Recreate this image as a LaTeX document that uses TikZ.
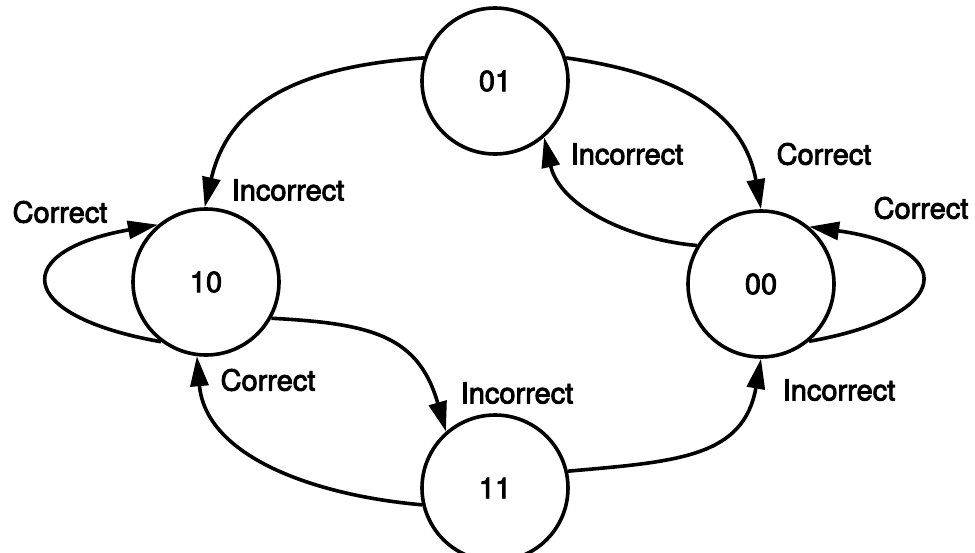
\documentclass[tikz,border=0pt]{standalone}
\usepackage{fontspec}
\newfontfamily\labfont[FakeBold=3]{TeX Gyre Heros}
\usetikzlibrary{arrows.meta}
\begin{document}
\begin{tikzpicture}[x=1pt,y=1pt,
  txt/.style={font=\labfont\fontsize{29}{34}\selectfont},
  state/.style={txt,circle,draw,line width=3.6pt,minimum size=146pt,inner sep=0pt},
  edge/.style={line width=3.6pt,-{Triangle[length=30pt,width=18pt]}},
  lbl/.style={txt,inner sep=0pt}]
\useasboundingbox (0,0) rectangle (975,-552);

% states
\node[state] (s01) at (495,-81)  {01};
\node[state] (s10) at (206,-282) {10};
\node[state] (s00) at (761,-284) {00};
\node[state] (s11) at (495,-488) {11};

% transitions
\draw[edge] (s01.162) to[out=184,in=77,out distance=120pt,in distance=110pt] (s10.91);
\draw[edge] (s01.18) to[out=-8,in=100,out distance=110pt,in distance=100pt] (s00.90);
\draw[edge] (s00.149) to[out=175,in=-77,out distance=70pt,in distance=70pt] (s01.-49);
\draw[edge] (s00.-50) to[out=10,in=-8,out distance=150pt,in distance=150pt] (s00.50);
\draw[edge] (s10.-127) to[out=170,in=190,out distance=150pt,in distance=150pt] (s10.130);
\draw[edge] (s10.-29) to[out=-3,in=106,out distance=100pt,in distance=100pt] (s11.131);
\draw[edge] (s11.193) to[out=175,in=-85,out distance=110pt,in distance=100pt] (s10.-97);
\draw[edge] (s11.13) to[out=5,in=-100,out distance=110pt,in distance=100pt] (s00.-90);

% transition labels
\node[lbl] (l1) at (288,-190) {Incorrect};
\node[lbl] (l2) at (824,-154) {Correct};
\node[lbl] (l3) at (627,-154) {Incorrect};
\node[lbl] (l4) at (921,-208) {Correct};
\node[lbl] (l5) at (60,-212)  {Correct};
\node[lbl] (l6) at (517,-393) {Incorrect};
\node[lbl] (l7) at (268,-380) {Correct};
\node[lbl] (l8) at (839,-390) {Incorrect};
\end{tikzpicture}
\end{document}
